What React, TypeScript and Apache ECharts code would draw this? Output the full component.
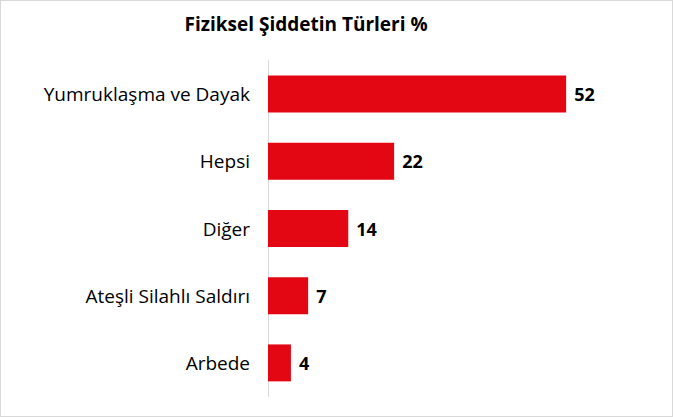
import * as echarts from 'echarts';
import { useEffect, useRef } from 'react';

const categories = ['Yumruklaşma ve Dayak', 'Hepsi', 'Diğer', 'Ateşli Silahlı Saldırı', 'Arbede'];
const values = [52, 22, 14, 7, 4];
const title = 'Fiziksel Şiddetin Türleri %';

export default function App() {
  const chartRef = useRef<HTMLDivElement>(null);

  useEffect(() => {
    if (!chartRef.current) return;
    document.body.style.margin = '0';
    const chart = echarts.init(chartRef.current, undefined, { renderer: 'svg' });

    chart.setOption({
      animation: false,
      title: {
        text: title,
        left: 300,
        textAlign: 'center',
        top: 8,
        textStyle: {
          fontFamily: 'Open Sans',
          fontSize: 19,
          fontWeight: 'bold',
          color: '#000',
        },
      },
      grid: {
        left: 267,
        top: 59.5,
        width: 344,
        height: 336,
        containLabel: false,
      },
      xAxis: {
        type: 'value',
        min: 0,
        max: 60,
        show: false,
      },
      yAxis: {
        type: 'category',
        inverse: true,
        data: categories,
        axisLine: { show: true, lineStyle: { color: '#d9d9d9', width: 1 } },
        axisTick: { show: false },
        axisLabel: {
          margin: 18,
          fontFamily: 'Open Sans',
          fontSize: 19,
          color: '#000',
        },
      },
      series: [
        {
          type: 'bar',
          data: values,
          barCategoryGap: '45%',
          itemStyle: { color: '#E30613' },
          label: {
            show: true,
            position: 'right',
            distance: 8,
            fontFamily: 'Open Sans',
            fontSize: 18,
            fontWeight: 'bold',
            color: '#000',
          },
        },
      ],
    });

    return () => {
      chart.dispose();
    };
  }, []);

  return (
    <div
      style={{
        position: 'fixed',
        left: 0,
        top: 0,
        width: 673,
        height: 417,
        border: '1px solid #d9d9d9',
        boxSizing: 'border-box',
        background: '#fff',
      }}
    >
      <div ref={chartRef} style={{ width: 671, height: 415 }} />
    </div>
  );
}
